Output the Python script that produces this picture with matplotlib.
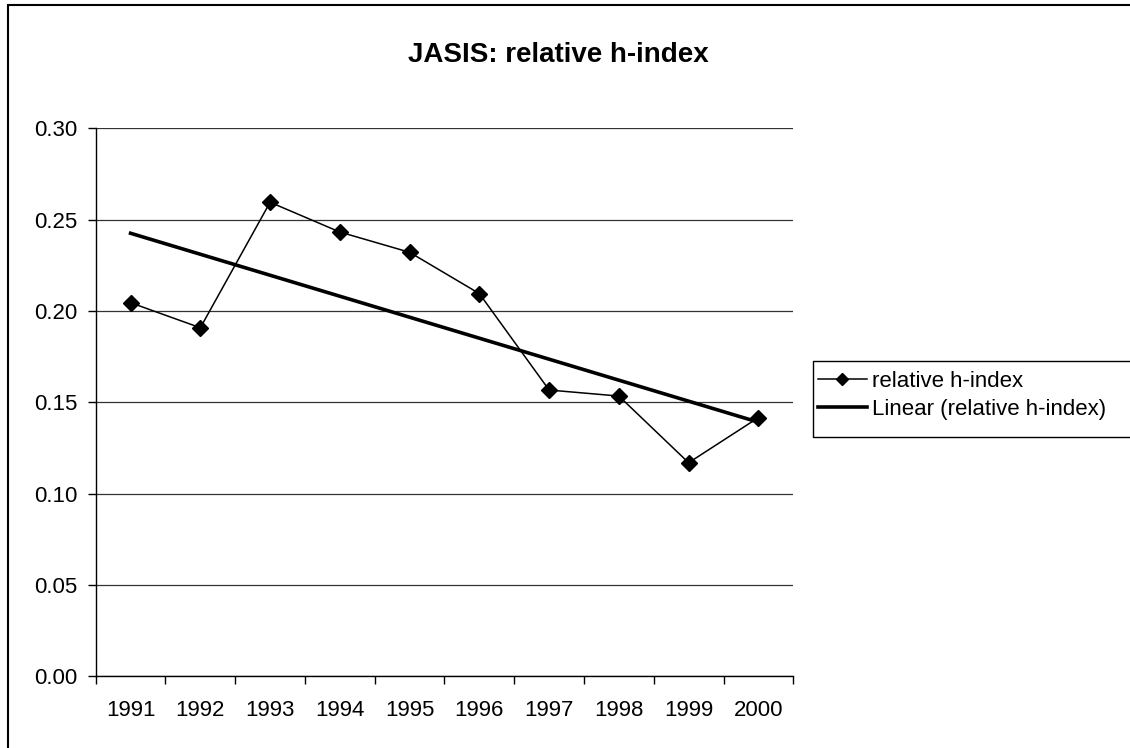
import numpy as np
import matplotlib.pyplot as plt
from matplotlib.patches import Rectangle

plt.rcParams['font.family'] = ['Liberation Sans', 'DejaVu Sans']

# data
years = ['1991', '1992', '1993', '1994', '1995', '1996', '1997', '1998', '1999', '2000']
rel_h = [0.2045, 0.1908, 0.2595, 0.2432, 0.2321, 0.2095, 0.1567, 0.1534, 0.1169, 0.1416]

x = np.arange(len(years))
slope, icpt = np.polyfit(x, rel_h, 1)
trend = slope * x + icpt

fig = plt.figure(figsize=(11.3, 7.48), dpi=100)
ax = fig.add_axes([0.0847, 0.0959, 0.6173, 0.7326])

# chart area border (runs off right / bottom like the original crop)
fig.patches.append(Rectangle((8 / 1130, -0.05), 1.2, 1 - 5 / 748 + 0.05,
                             transform=fig.transFigure, fill=False,
                             edgecolor='black', linewidth=1.5))

ax.plot(x, rel_h, color='black', lw=1.1, marker='D', markersize=8,
        label='relative h-index', zorder=3)
ax.plot(x, trend, color='black', lw=2.6, label='Linear (relative h-index)', zorder=3)

ax.set_xlim(-0.5, len(years) - 0.5)
ax.set_ylim(0, 0.30)
ax.set_yticks(np.arange(0, 0.301, 0.05))
ax.set_yticklabels(['%.2f' % v for v in np.arange(0, 0.301, 0.05)])
ax.yaxis.grid(True, color='#333333', lw=0.9)
ax.set_axisbelow(True)

# category labels at centers, tick marks at boundaries
ax.set_xticks(x)
ax.set_xticklabels(years)
ax.set_xticks(np.arange(-0.5, len(years)), minor=True)
ax.tick_params(axis='x', which='major', length=0, pad=17, labelsize=16)
ax.tick_params(axis='x', which='minor', length=6, width=1, direction='out')
ax.tick_params(axis='y', length=6, width=1, direction='out', pad=7, labelsize=16)

for s in ['top', 'right']:
    ax.spines[s].set_visible(False)
for s in ['left', 'bottom']:
    ax.spines[s].set_linewidth(1)

fig.text(0.494, 0.926, 'JASIS: relative h-index', ha='center', va='center',
         fontsize=20, fontweight='bold')

# legend box runs past the right edge in the original
fig.patches.append(Rectangle((813 / 1130, 1 - 437 / 748), 0.4, 76 / 748,
                             transform=fig.transFigure, fill=False,
                             edgecolor='black', linewidth=1))
leg = fig.legend(loc='upper left', bbox_to_anchor=(818 / 1130, 1 - 371 / 748),
                 fontsize=16, frameon=False, handlelength=2.2, markerscale=0.75,
                 handletextpad=0.25, borderaxespad=0, borderpad=0,
                 labelspacing=0.3)

fig.savefig('out.png', dpi=100)
